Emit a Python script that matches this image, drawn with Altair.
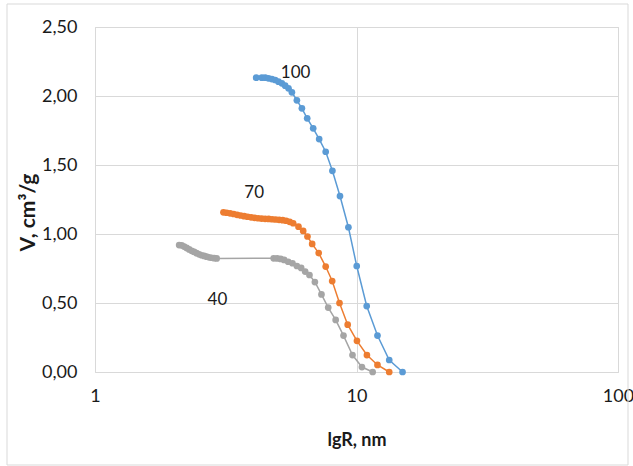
import altair as alt
import pandas as pd

# Pore volume vs. pore radius for three samples (x on a log scale)
r_100 = [4.134, 4.346, 4.474, 4.607, 4.747, 4.887, 5.031, 5.184, 5.337, 5.495,
         5.662, 5.916, 6.183, 6.478, 6.829, 7.199, 7.624, 8.088, 8.647, 9.312,
         10.02, 10.94, 12.03, 13.34, 15.0]
v_100 = [2.133, 2.133, 2.133, 2.128, 2.123, 2.116, 2.104, 2.092, 2.075, 2.056,
         2.027, 1.969, 1.911, 1.838, 1.766, 1.688, 1.596, 1.458, 1.275, 1.049,
         0.768, 0.478, 0.264, 0.087, 0.0]

r_70 = [3.099, 3.187, 3.287, 3.391, 3.497, 3.606, 3.719, 3.835, 3.955, 4.079,
        4.207, 4.338, 4.474, 4.614, 4.758, 4.907, 5.061, 5.220, 5.383, 5.552,
        5.726, 6.000, 6.254, 6.494, 6.768, 7.168, 7.624, 8.073, 8.610, 9.253,
        10.04, 10.96, 12.03, 13.34]
v_70 = [1.157, 1.154, 1.150, 1.145, 1.139, 1.134, 1.129, 1.125, 1.121, 1.117,
        1.114, 1.112, 1.110, 1.109, 1.107, 1.105, 1.103, 1.100, 1.096, 1.088,
        1.078, 1.053, 1.022, 0.982, 0.928, 0.862, 0.764, 0.659, 0.500, 0.343,
        0.226, 0.123, 0.051, 0.0]

r_40 = [2.098, 2.145, 2.192, 2.241, 2.291, 2.342, 2.394, 2.447, 2.502, 2.557,
        2.614, 2.673, 2.732, 2.793, 2.855, 2.919,
        4.822, 4.973, 5.129, 5.289, 5.480, 5.691, 5.916, 6.144, 6.364, 6.610,
        6.932, 7.345, 7.795, 8.325, 8.919, 9.654, 10.49, 11.53]
v_40 = [0.920, 0.918, 0.909, 0.899, 0.888, 0.878, 0.870, 0.861, 0.853, 0.846,
        0.841, 0.836, 0.831, 0.828, 0.825, 0.823,
        0.824, 0.823, 0.819, 0.812, 0.799, 0.788, 0.768, 0.754, 0.728, 0.703,
        0.652, 0.562, 0.467, 0.377, 0.264, 0.123, 0.036, 0.0]

series_names = ["100", "70", "40"]
series_colors = ["#5b9bd5", "#ed7d31", "#a5a5a5"]

label_text = ["100", "70", "40"]
label_r = [5.85, 4.06, 2.94]
label_v = [2.17, 1.30, 0.52]

y_ticks = [0, 0.5, 1.0, 1.5, 2.0, 2.5]
x_ticks = [1, 10, 100]

FONT = "Lato, sans-serif"
INK = "#1a1a1a"

rows = []
for name, rs, vs in zip(series_names, [r_100, r_70, r_40], [v_100, v_70, v_40]):
    for i, (r, v) in enumerate(zip(rs, vs)):
        rows.append({"series": name, "idx": i, "r": r, "v": v})
df = pd.DataFrame(rows)

labels = pd.DataFrame({"text": label_text, "r": label_r, "v": label_v})

x_scale = alt.Scale(type="log", domain=[1, 100], nice=False)
y_scale = alt.Scale(domain=[0, 2.5], nice=False)
color_scale = alt.Scale(domain=series_names, range=series_colors)

x_enc = alt.X(
    "r:Q", scale=x_scale,
    axis=alt.Axis(
        title="lgR, nm", values=x_ticks, labelExpr="datum.value",
        grid=True, gridColor="#d9d9d9", domain=False, ticks=False,
        labelFlush=False,
        labelFont=FONT, labelFontSize=18, labelColor=INK, labelPadding=15,
        titleFont=FONT, titleFontSize=18, titleFontWeight="bold", titleColor=INK,
        titlePadding=26,
    ),
)
y_enc = alt.Y(
    "v:Q", scale=y_scale,
    axis=alt.Axis(
        title="V, cm³/g", values=y_ticks,
        labelExpr="replace(format(datum.value, '.2f'), '.', ',')",
        grid=True, gridColor="#d9d9d9", domain=False, ticks=False,
        labelFlush=False,
        labelFont=FONT, labelFontSize=18, labelColor=INK, labelPadding=18,
        titleFont=FONT, titleFontSize=21, titleFontWeight="bold", titleColor=INK,
        titleX=-67, titleY=185, titleBaseline="middle", titleAlign="center",
    ),
)

base = alt.Chart(df)

lines = base.mark_line(strokeWidth=1.5).encode(
    x=x_enc, y=y_enc,
    color=alt.Color("series:N", scale=color_scale, legend=None),
    detail="series:N",
    order="idx:Q",
)

points = base.mark_circle(size=45, opacity=1).encode(
    x="r:Q", y="v:Q",
    color=alt.Color("series:N", scale=color_scale, legend=None),
)

texts = alt.Chart(labels).mark_text(
    font=FONT, fontSize=17, color=INK, align="center", baseline="middle"
).encode(x="r:Q", y="v:Q", text="text:N")

# light frame around the whole figure
frame = alt.Chart(pd.DataFrame({"k": [0]})).mark_rect(
    filled=False, stroke="#d9d9d9", strokeWidth=1
).encode(
    x=alt.value(-88), x2=alt.value(533), y=alt.value(-23), y2=alt.value(438)
)

chart = alt.layer(frame, lines, points, texts).properties(
    width=523, height=345,
    autosize=alt.AutoSizeParams(type="none"),
    padding={"left": 95, "top": 27, "right": 15, "bottom": 94},
    background="white",
).configure_view(stroke="#d9d9d9", strokeWidth=1)

chart.save("out.html", embed_options={"renderer": "svg", "actions": False})
